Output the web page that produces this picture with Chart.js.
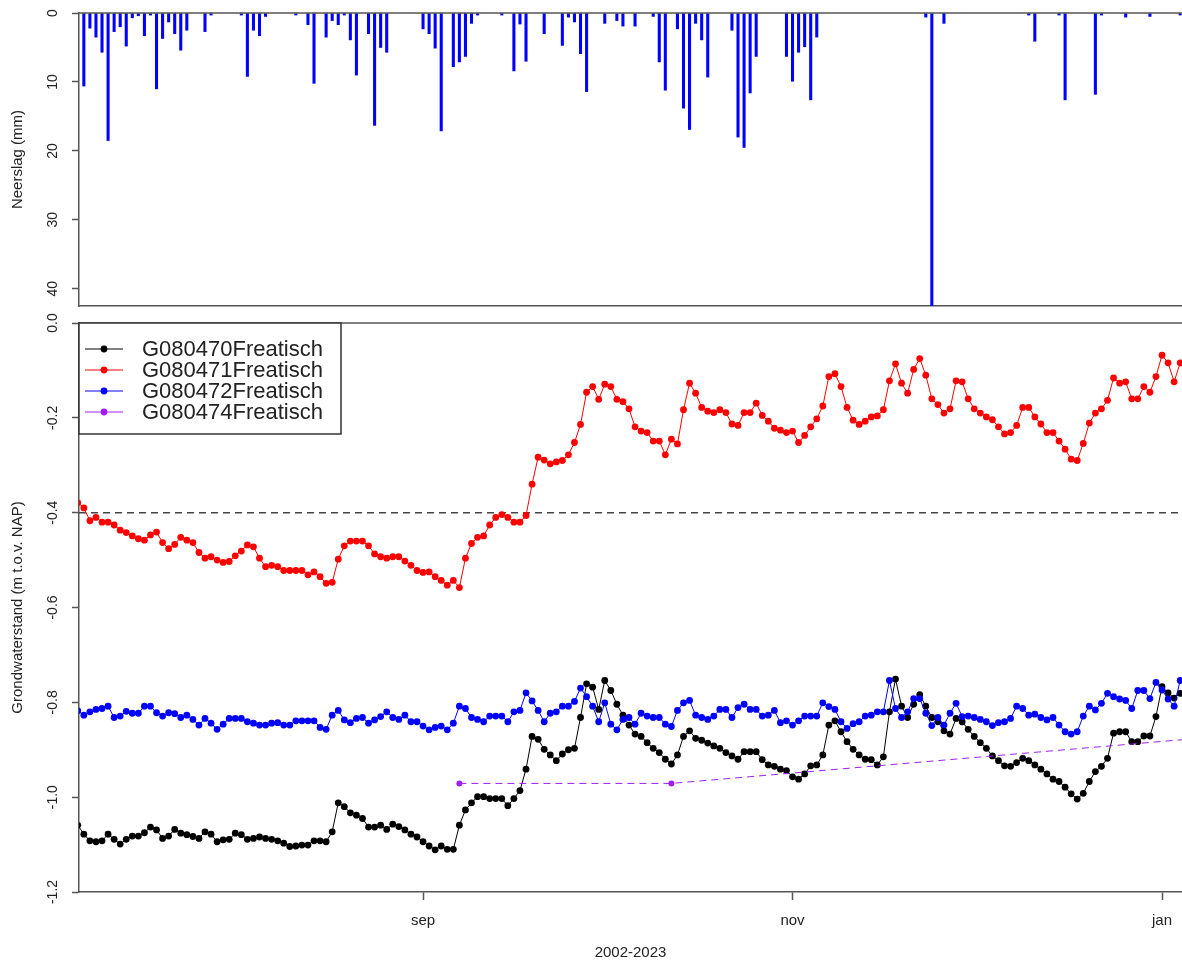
<!DOCTYPE html>
<html>
<head>
<meta charset="utf-8">
<title>Neerslag en grondwaterstand</title>
<script src="https://cdn.jsdelivr.net/npm/chart.js@4.4.1/dist/chart.umd.min.js"></script>
<style>
  body { margin: 0; background: #fff; }
  #wrap { position: relative; width: 1182px; height: 965px; overflow: hidden; }
  canvas { position: absolute; left: 0; }
  #rain { top: 0; }
  #gw { top: 300px; }
</style>
</head>
<body>
<div id="wrap">
  <canvas id="rain" width="1182" height="315"></canvas>
  <canvas id="gw" width="1182" height="665"></canvas>
</div>
<script>
// dagen geteld vanaf 1 juli 2022
const xMin = 5.2;
const xMax = 187.3;
const monthTicks = [62, 123, 184];
const monthLabels = ['sep', 'nov', 'jan'];
const xTitle = '2002-2023';

// neerslag (mm) per dag
const rainDays = [6, 7, 8, 9, 10, 11, 12, 13, 14, 15, 16, 17, 18, 19, 20, 21, 22, 23, 26, 27,
  32, 33, 34, 35, 36, 41, 43, 44, 46, 47, 48, 49, 50, 51, 53, 54, 55, 56,
  62, 63, 64, 65, 67, 68, 69, 70, 71, 75, 77, 78, 79, 82, 85, 86, 87, 88, 89, 92, 94, 95, 97,
  100, 101, 102, 104, 105, 106, 107, 108, 109, 113, 114, 115, 116, 117,
  122, 123, 124, 125, 126, 127, 145, 146, 148, 162, 163, 167, 168, 173, 174, 178, 182, 187];
const rainMm = [10.6, 2.2, 3.5, 5.7, 18.5, 2.7, 2.0, 4.8, 0.7, 0.4, 3.3, 0.3, 11.0, 3.7, 1.3, 3.0, 5.4, 2.5, 2.7, 0.3,
  0.3, 9.2, 2.5, 3.3, 0.5, 0.3, 1.7, 10.2, 3.5, 1.1, 1.7, 0.3, 3.9, 9.0, 3.0, 16.3, 5.0, 5.7,
  2.3, 3.0, 5.1, 17.1, 7.8, 7.1, 6.3, 1.5, 0.3, 0.3, 8.4, 1.6, 7.0, 3.0, 4.7, 0.6, 1.3, 5.9, 11.4, 1.5, 1.1, 1.9, 1.9,
  0.5, 7.1, 11.2, 2.3, 13.8, 16.9, 1.5, 3.9, 9.3, 2.5, 18.0, 19.5, 11.6, 6.3,
  6.3, 9.9, 5.7, 4.9, 12.6, 3.5, 0.6, 46, 1.5, 0.3, 4.1, 0.3, 12.6, 11.8, 0.3, 0.6, 0.5, 0.3];
const rainTicks = [0, 10, 20, 30, 40];

// grondwaterstand (m t.o.v. NAP), dagelijks vanaf dag 5
const firstDay = 5;
const g080470 = [-1.059, -1.078, -1.092, -1.094, -1.092, -1.078, -1.089, -1.099, -1.089, -1.082,
  -1.082, -1.075, -1.063, -1.069, -1.087, -1.082, -1.068, -1.076, -1.079, -1.083,
  -1.087, -1.073, -1.078, -1.094, -1.090, -1.089, -1.076, -1.079, -1.089, -1.087,
  -1.084, -1.087, -1.089, -1.092, -1.097, -1.104, -1.103, -1.101, -1.101, -1.092,
  -1.092, -1.094, -1.073, -1.012, -1.020, -1.033, -1.038, -1.045, -1.063, -1.063,
  -1.059, -1.068, -1.057, -1.062, -1.069, -1.078, -1.084, -1.094, -1.103, -1.111,
  -1.103, -1.110, -1.110, -1.059, -1.027, -1.012, -0.999, -0.999, -1.003, -1.003,
  -1.003, -1.018, -1.003, -0.986, -0.941, -0.872, -0.878, -0.899, -0.911, -0.923,
  -0.909, -0.900, -0.897, -0.832, -0.761, -0.768, -0.815, -0.754, -0.775, -0.804,
  -0.827, -0.848, -0.867, -0.872, -0.885, -0.897, -0.906, -0.920, -0.930, -0.911,
  -0.872, -0.860, -0.876, -0.880, -0.886, -0.892, -0.897, -0.906, -0.913, -0.920,
  -0.904, -0.904, -0.904, -0.921, -0.932, -0.935, -0.941, -0.944, -0.957, -0.962,
  -0.951, -0.934, -0.932, -0.911, -0.848, -0.839, -0.862, -0.883, -0.899, -0.911,
  -0.920, -0.921, -0.932, -0.915, -0.820, -0.751, -0.808, -0.832, -0.804, -0.784,
  -0.808, -0.832, -0.841, -0.860, -0.867, -0.834, -0.841, -0.857, -0.872, -0.885,
  -0.897, -0.913, -0.923, -0.934, -0.935, -0.927, -0.918, -0.923, -0.932, -0.941,
  -0.951, -0.962, -0.967, -0.979, -0.993, -1.004, -0.992, -0.967, -0.946, -0.935,
  -0.918, -0.865, -0.862, -0.862, -0.883, -0.883, -0.871, -0.871, -0.830, -0.767,
  -0.780, -0.791, -0.781];
const g080471 = [-0.379, -0.390, -0.417, -0.410, -0.420, -0.420, -0.426, -0.437, -0.442, -0.449,
  -0.455, -0.458, -0.447, -0.441, -0.463, -0.476, -0.467, -0.452, -0.458, -0.463,
  -0.484, -0.496, -0.493, -0.500, -0.505, -0.503, -0.491, -0.481, -0.468, -0.472,
  -0.496, -0.514, -0.511, -0.514, -0.522, -0.522, -0.522, -0.522, -0.531, -0.525,
  -0.535, -0.549, -0.547, -0.498, -0.470, -0.460, -0.460, -0.460, -0.470, -0.487,
  -0.493, -0.496, -0.493, -0.493, -0.502, -0.511, -0.522, -0.526, -0.525, -0.535,
  -0.543, -0.553, -0.543, -0.558, -0.496, -0.465, -0.452, -0.449, -0.426, -0.410,
  -0.404, -0.410, -0.420, -0.420, -0.406, -0.340, -0.283, -0.289, -0.297, -0.293,
  -0.290, -0.278, -0.252, -0.214, -0.146, -0.134, -0.161, -0.129, -0.134, -0.161,
  -0.166, -0.181, -0.219, -0.228, -0.231, -0.249, -0.249, -0.278, -0.245, -0.255,
  -0.183, -0.127, -0.148, -0.178, -0.186, -0.189, -0.183, -0.189, -0.213, -0.216,
  -0.189, -0.189, -0.169, -0.195, -0.207, -0.222, -0.226, -0.231, -0.228, -0.252,
  -0.237, -0.219, -0.202, -0.175, -0.113, -0.107, -0.134, -0.178, -0.205, -0.214,
  -0.207, -0.198, -0.196, -0.183, -0.122, -0.086, -0.127, -0.148, -0.098, -0.075,
  -0.110, -0.160, -0.172, -0.190, -0.181, -0.122, -0.124, -0.160, -0.181, -0.190,
  -0.198, -0.204, -0.219, -0.234, -0.231, -0.216, -0.178, -0.178, -0.198, -0.213,
  -0.231, -0.231, -0.249, -0.266, -0.287, -0.290, -0.254, -0.211, -0.190, -0.181,
  -0.163, -0.116, -0.127, -0.124, -0.160, -0.160, -0.134, -0.146, -0.113, -0.068,
  -0.084, -0.124, -0.084];
const g080472 = [-0.818, -0.827, -0.820, -0.815, -0.813, -0.808, -0.832, -0.829, -0.819, -0.823,
  -0.823, -0.808, -0.808, -0.822, -0.829, -0.822, -0.824, -0.832, -0.827, -0.836,
  -0.848, -0.834, -0.844, -0.857, -0.846, -0.834, -0.834, -0.834, -0.841, -0.844,
  -0.848, -0.848, -0.844, -0.843, -0.848, -0.848, -0.839, -0.839, -0.839, -0.839,
  -0.853, -0.857, -0.827, -0.817, -0.837, -0.843, -0.834, -0.832, -0.844, -0.837,
  -0.830, -0.820, -0.832, -0.836, -0.827, -0.841, -0.841, -0.850, -0.858, -0.853,
  -0.850, -0.858, -0.844, -0.808, -0.813, -0.832, -0.836, -0.841, -0.829, -0.829,
  -0.829, -0.841, -0.820, -0.817, -0.780, -0.797, -0.817, -0.841, -0.823, -0.820,
  -0.808, -0.808, -0.798, -0.770, -0.788, -0.808, -0.841, -0.801, -0.846, -0.858,
  -0.836, -0.832, -0.846, -0.823, -0.829, -0.832, -0.832, -0.846, -0.851, -0.817,
  -0.801, -0.796, -0.827, -0.832, -0.836, -0.829, -0.815, -0.815, -0.832, -0.811,
  -0.804, -0.815, -0.815, -0.829, -0.827, -0.817, -0.843, -0.839, -0.848, -0.839,
  -0.829, -0.829, -0.829, -0.801, -0.809, -0.815, -0.841, -0.855, -0.845, -0.841,
  -0.829, -0.827, -0.820, -0.820, -0.754, -0.813, -0.832, -0.820, -0.792, -0.792,
  -0.823, -0.849, -0.832, -0.848, -0.823, -0.802, -0.830, -0.829, -0.832, -0.836,
  -0.841, -0.849, -0.843, -0.841, -0.834, -0.808, -0.813, -0.827, -0.825, -0.832,
  -0.837, -0.832, -0.848, -0.862, -0.867, -0.862, -0.829, -0.808, -0.816, -0.802,
  -0.781, -0.788, -0.793, -0.796, -0.813, -0.775, -0.775, -0.792, -0.758, -0.774,
  -0.793, -0.808, -0.754];
// G080474 is alleen af en toe gemeten
const g080474Days = [68, 103, 200];
const g080474 = [-0.971, -0.971, -0.865];

const seriesNames = ['G080470Freatisch', 'G080471Freatisch', 'G080472Freatisch', 'G080474Freatisch'];
const referenceLevel = -0.4;

const axisColor = '#555';
const textColor = '#222';
const fontFamily = "'Liberation Sans', Arial, sans-serif";

const daily = values => values.map((v, i) => ({ x: firstDay + i, y: v }));

// R-achtige y-as labels: gedraaid, parallel aan de as
const rotatedYLabels = {
  id: 'rotatedYLabels',
  afterDraw(chart, args, opts) {
    const s = chart.scales.y;
    const ctx = chart.ctx;
    ctx.save();
    ctx.fillStyle = textColor;
    ctx.font = '14px ' + fontFamily;
    ctx.textAlign = 'center';
    ctx.textBaseline = 'middle';
    s.ticks.forEach(t => {
      const y = s.getPixelForValue(t.value);
      ctx.save();
      ctx.translate(53, y);
      ctx.rotate(-Math.PI / 2);
      ctx.fillText(t.value.toFixed(opts.decimals), 0, 0);
      ctx.restore();
    });
    ctx.restore();
  }
};

// bovenrand van het plotvak
const topBorder = {
  id: 'topBorder',
  afterDraw(chart) {
    const { ctx, chartArea } = chart;
    ctx.save();
    ctx.strokeStyle = axisColor;
    ctx.lineWidth = 1.5;
    ctx.beginPath();
    ctx.moveTo(chartArea.left, chartArea.top);
    ctx.lineTo(chartArea.right, chartArea.top);
    ctx.stroke();
    ctx.restore();
  }
};

// gestippelde referentielijn
const refLine = {
  id: 'refLine',
  beforeDatasetsDraw(chart) {
    const { ctx, chartArea } = chart;
    const y = chart.scales.y.getPixelForValue(referenceLevel);
    ctx.save();
    ctx.strokeStyle = '#444';
    ctx.lineWidth = 1.5;
    ctx.setLineDash([7, 5]);
    ctx.beginPath();
    ctx.moveTo(chartArea.left, y);
    ctx.lineTo(chartArea.right, y);
    ctx.stroke();
    ctx.restore();
  }
};

// legenda met kader linksboven
const boxLegend = {
  id: 'boxLegend',
  afterDraw(chart) {
    const { ctx, chartArea } = chart;
    const x0 = chartArea.left, y0 = chartArea.top;
    ctx.save();
    ctx.fillStyle = '#fff';
    ctx.fillRect(x0, y0, 262, 111);
    ctx.strokeStyle = '#333';
    ctx.lineWidth = 1.5;
    ctx.strokeRect(x0, y0, 262, 111);
    ctx.font = '22px ' + fontFamily;
    ctx.textBaseline = 'middle';
    chart.data.datasets.forEach((ds, i) => {
      const y = y0 + 26 + i * 21;
      ctx.strokeStyle = ds.borderColor;
      ctx.lineWidth = 1;
      ctx.setLineDash([]);
      ctx.beginPath();
      ctx.moveTo(x0 + 6, y);
      ctx.lineTo(x0 + 44, y);
      ctx.stroke();
      ctx.fillStyle = ds.borderColor;
      ctx.beginPath();
      ctx.arc(x0 + 25, y, 3.4, 0, Math.PI * 2);
      ctx.fill();
      ctx.fillStyle = textColor;
      ctx.fillText(ds.label, x0 + 63, y + 1);
    });
    ctx.restore();
  }
};

const noPadding = s => { s.paddingLeft = 0; s.paddingRight = 0; };

const yAxisBase = {
  afterFit: s => { s.width = 79; },
  border: { display: true, color: axisColor, width: 1.5 },
  grid: { drawOnChartArea: false, drawTicks: true, tickLength: 7, tickColor: axisColor, tickWidth: 1.5 },
  ticks: { display: false },
  title: { display: true, color: textColor, font: { family: fontFamily, size: 15 }, padding: { top: 9, bottom: 0 } }
};

const createRainChart = () => {
  const ctx = document.getElementById('rain').getContext('2d');
  new Chart(ctx, {
    type: 'bar',
    data: {
      datasets: [{
        label: 'Neerslag',
        data: rainDays.map((d, i) => ({ x: d, y: rainMm[i] })),
        backgroundColor: '#0000ff',
        barThickness: 2.4
      }]
    },
    options: {
      responsive: false,
      animation: false,
      devicePixelRatio: 1,
      layout: { autoPadding: false, padding: { top: 13, left: 0, right: 0, bottom: 0 } },
      plugins: { legend: { display: false }, tooltip: { enabled: false }, rotatedYLabels: { decimals: 0 } },
      scales: {
        x: {
          type: 'linear', min: xMin, max: xMax, offset: false,
          afterFit: s => { s.height = 9; noPadding(s); },
          border: { display: true, color: axisColor, width: 1.5 },
          grid: { display: false },
          ticks: { display: false }
        },
        y: Object.assign({}, yAxisBase, {
          min: 0, max: 42.5, reverse: true,
          afterBuildTicks: s => { s.ticks = rainTicks.map(v => ({ value: v })); },
          title: Object.assign({}, yAxisBase.title, { text: 'Neerslag (mm)' })
        })
      }
    },
    plugins: [rotatedYLabels, topBorder]
  });
};

const createGroundwaterChart = () => {
  const ctx = document.getElementById('gw').getContext('2d');
  const lineStyle = (label, color, data, order) => ({
    label: label,
    data: data,
    borderColor: color,
    backgroundColor: color,
    borderWidth: 1,
    pointRadius: 3.4,
    pointBorderWidth: 0,
    pointBackgroundColor: color,
    order: order
  });
  new Chart(ctx, {
    type: 'line',
    data: {
      datasets: [
        lineStyle(seriesNames[0], '#000000', daily(g080470), 4),
        lineStyle(seriesNames[1], '#ff0000', daily(g080471), 3),
        lineStyle(seriesNames[2], '#0000ff', daily(g080472), 2),
        Object.assign(lineStyle(seriesNames[3], '#a020f0',
          g080474Days.map((d, i) => ({ x: d, y: g080474[i] })), 1), { borderDash: [7, 5], pointRadius: 3 })
      ]
    },
    options: {
      responsive: false,
      animation: false,
      devicePixelRatio: 1,
      layout: { autoPadding: false, padding: { top: 23, left: 0, right: 0, bottom: 0 } },
      plugins: { legend: { display: false }, tooltip: { enabled: false }, rotatedYLabels: { decimals: 1 } },
      scales: {
        x: {
          type: 'linear', min: xMin, max: xMax,
          afterBuildTicks: s => { s.ticks = monthTicks.map(v => ({ value: v })); },
          afterFit: s => { s.height = 73; noPadding(s); },
          border: { display: true, color: axisColor, width: 1.5 },
          grid: { drawOnChartArea: false, drawTicks: true, tickLength: 8, tickColor: axisColor, tickWidth: 1.5 },
          ticks: {
            color: textColor, padding: 12, maxRotation: 0, autoSkip: false,
            font: { family: fontFamily, size: 15 },
            callback: v => monthLabels[monthTicks.indexOf(v)]
          },
          title: { display: true, text: xTitle, color: textColor, font: { family: fontFamily, size: 15 }, padding: { top: 0, bottom: 3 } }
        },
        y: Object.assign({}, yAxisBase, {
          min: -1.2, max: 0,
          ticks: { display: false, stepSize: 0.2 },
          title: Object.assign({}, yAxisBase.title, { text: 'Grondwaterstand (m t.o.v. NAP)' })
        })
      }
    },
    plugins: [rotatedYLabels, topBorder, refLine, boxLegend]
  });
};

document.addEventListener('DOMContentLoaded', () => {
  createRainChart();
  createGroundwaterChart();
});
</script>
</body>
</html>
